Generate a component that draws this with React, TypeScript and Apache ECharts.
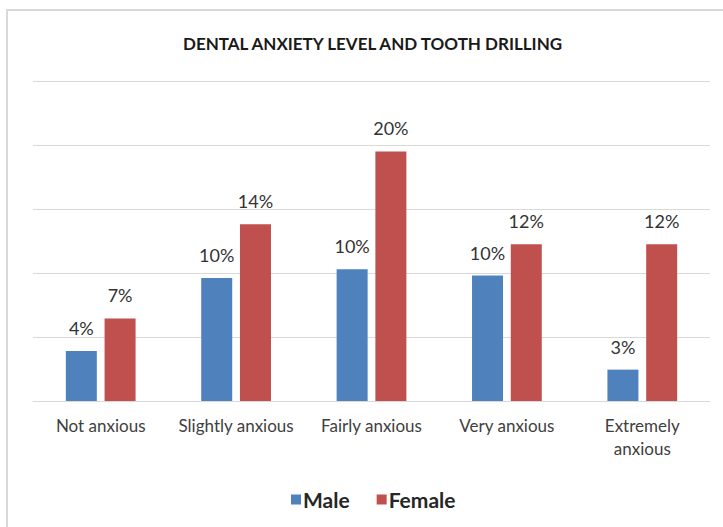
import React, { useEffect, useRef } from "react";
import * as echarts from "echarts";

const categories = ["Not anxious", "Slightly anxious", "Fairly anxious", "Very anxious", "Extremely anxious"];
const maleValues = [3.9, 9.6, 10.3, 9.8, 2.45];
const femaleValues = [6.45, 13.8, 19.5, 12.25, 12.25];
const maleLabels = ["4%", "10%", "10%", "10%", "3%"];
const femaleLabels = ["7%", "14%", "20%", "12%", "12%"];

const FONT = "Lato, 'Open Sans', sans-serif";

export default function App() {
  const ref = useRef<HTMLDivElement>(null);
  useEffect(() => {
    document.body.style.margin = "0";
    const chart = echarts.init(ref.current!, undefined, { renderer: "svg" });
    const labelStyle = (labels: string[]) => ({
      show: true,
      position: "top",
      distance: 14,
      fontSize: 18,
      color: "#333333",
      fontFamily: FONT,
      formatter: (p: any) => labels[p.dataIndex],
    });
    chart.setOption({
      animation: false,
      backgroundColor: "#ffffff",
      textStyle: { fontFamily: FONT },
      title: {
        text: "DENTAL ANXIETY LEVEL AND TOOTH DRILLING",
        left: 178,
        top: 30,
        textStyle: { fontSize: 17, fontWeight: "bold", color: "#1a1a1a", fontFamily: FONT },
      },
      legend: {
        data: ["Male", "Female"],
        top: 484,
        left: 286,
        icon: "rect",
        itemWidth: 10,
        itemHeight: 10,
        itemGap: 27,
        textStyle: { fontSize: 21, fontWeight: "bold", color: "#262626", fontFamily: FONT, padding: [0, 0, 0, -3] },
      },
      grid: { left: 33, right: 13, top: 81, bottom: 126 },
      xAxis: {
        type: "category",
        data: categories,
        axisLine: { lineStyle: { color: "#d9d9d9", width: 1 } },
        axisTick: { show: false },
        axisLabel: {
          fontSize: 17,
          color: "#404040",
          margin: 13,
          lineHeight: 23,
          interval: 0,
          fontFamily: FONT,
          formatter: (v: string) => (v.length > 16 ? v.replace(" ", "\n") : v),
        },
      },
      yAxis: {
        type: "value",
        min: 0,
        max: 25,
        interval: 5,
        axisLabel: { show: false },
        axisLine: { show: false },
        axisTick: { show: false },
        splitLine: { lineStyle: { color: "#d9d9d9", width: 1 } },
      },
      series: [
        {
          name: "Male",
          type: "bar",
          data: maleValues,
          barWidth: 31,
          barGap: "25%",
          itemStyle: { color: "#4f81bd" },
          label: labelStyle(maleLabels),
        },
        {
          name: "Female",
          type: "bar",
          data: femaleValues,
          barWidth: 31,
          barGap: "25%",
          itemStyle: { color: "#c0504d" },
          label: labelStyle(femaleLabels),
        },
      ],
      graphic: [
        { type: "line", shape: { x1: 6, y1: 10, x2: 723, y2: 10 }, style: { stroke: "#d9d9d9", lineWidth: 2 } },
        { type: "line", shape: { x1: 7, y1: 9, x2: 7, y2: 527 }, style: { stroke: "#d9d9d9", lineWidth: 2 } },
      ],
    });
    return () => chart.dispose();
  }, []);
  return <div ref={ref} style={{ width: 723, height: 527 }} />;
}
